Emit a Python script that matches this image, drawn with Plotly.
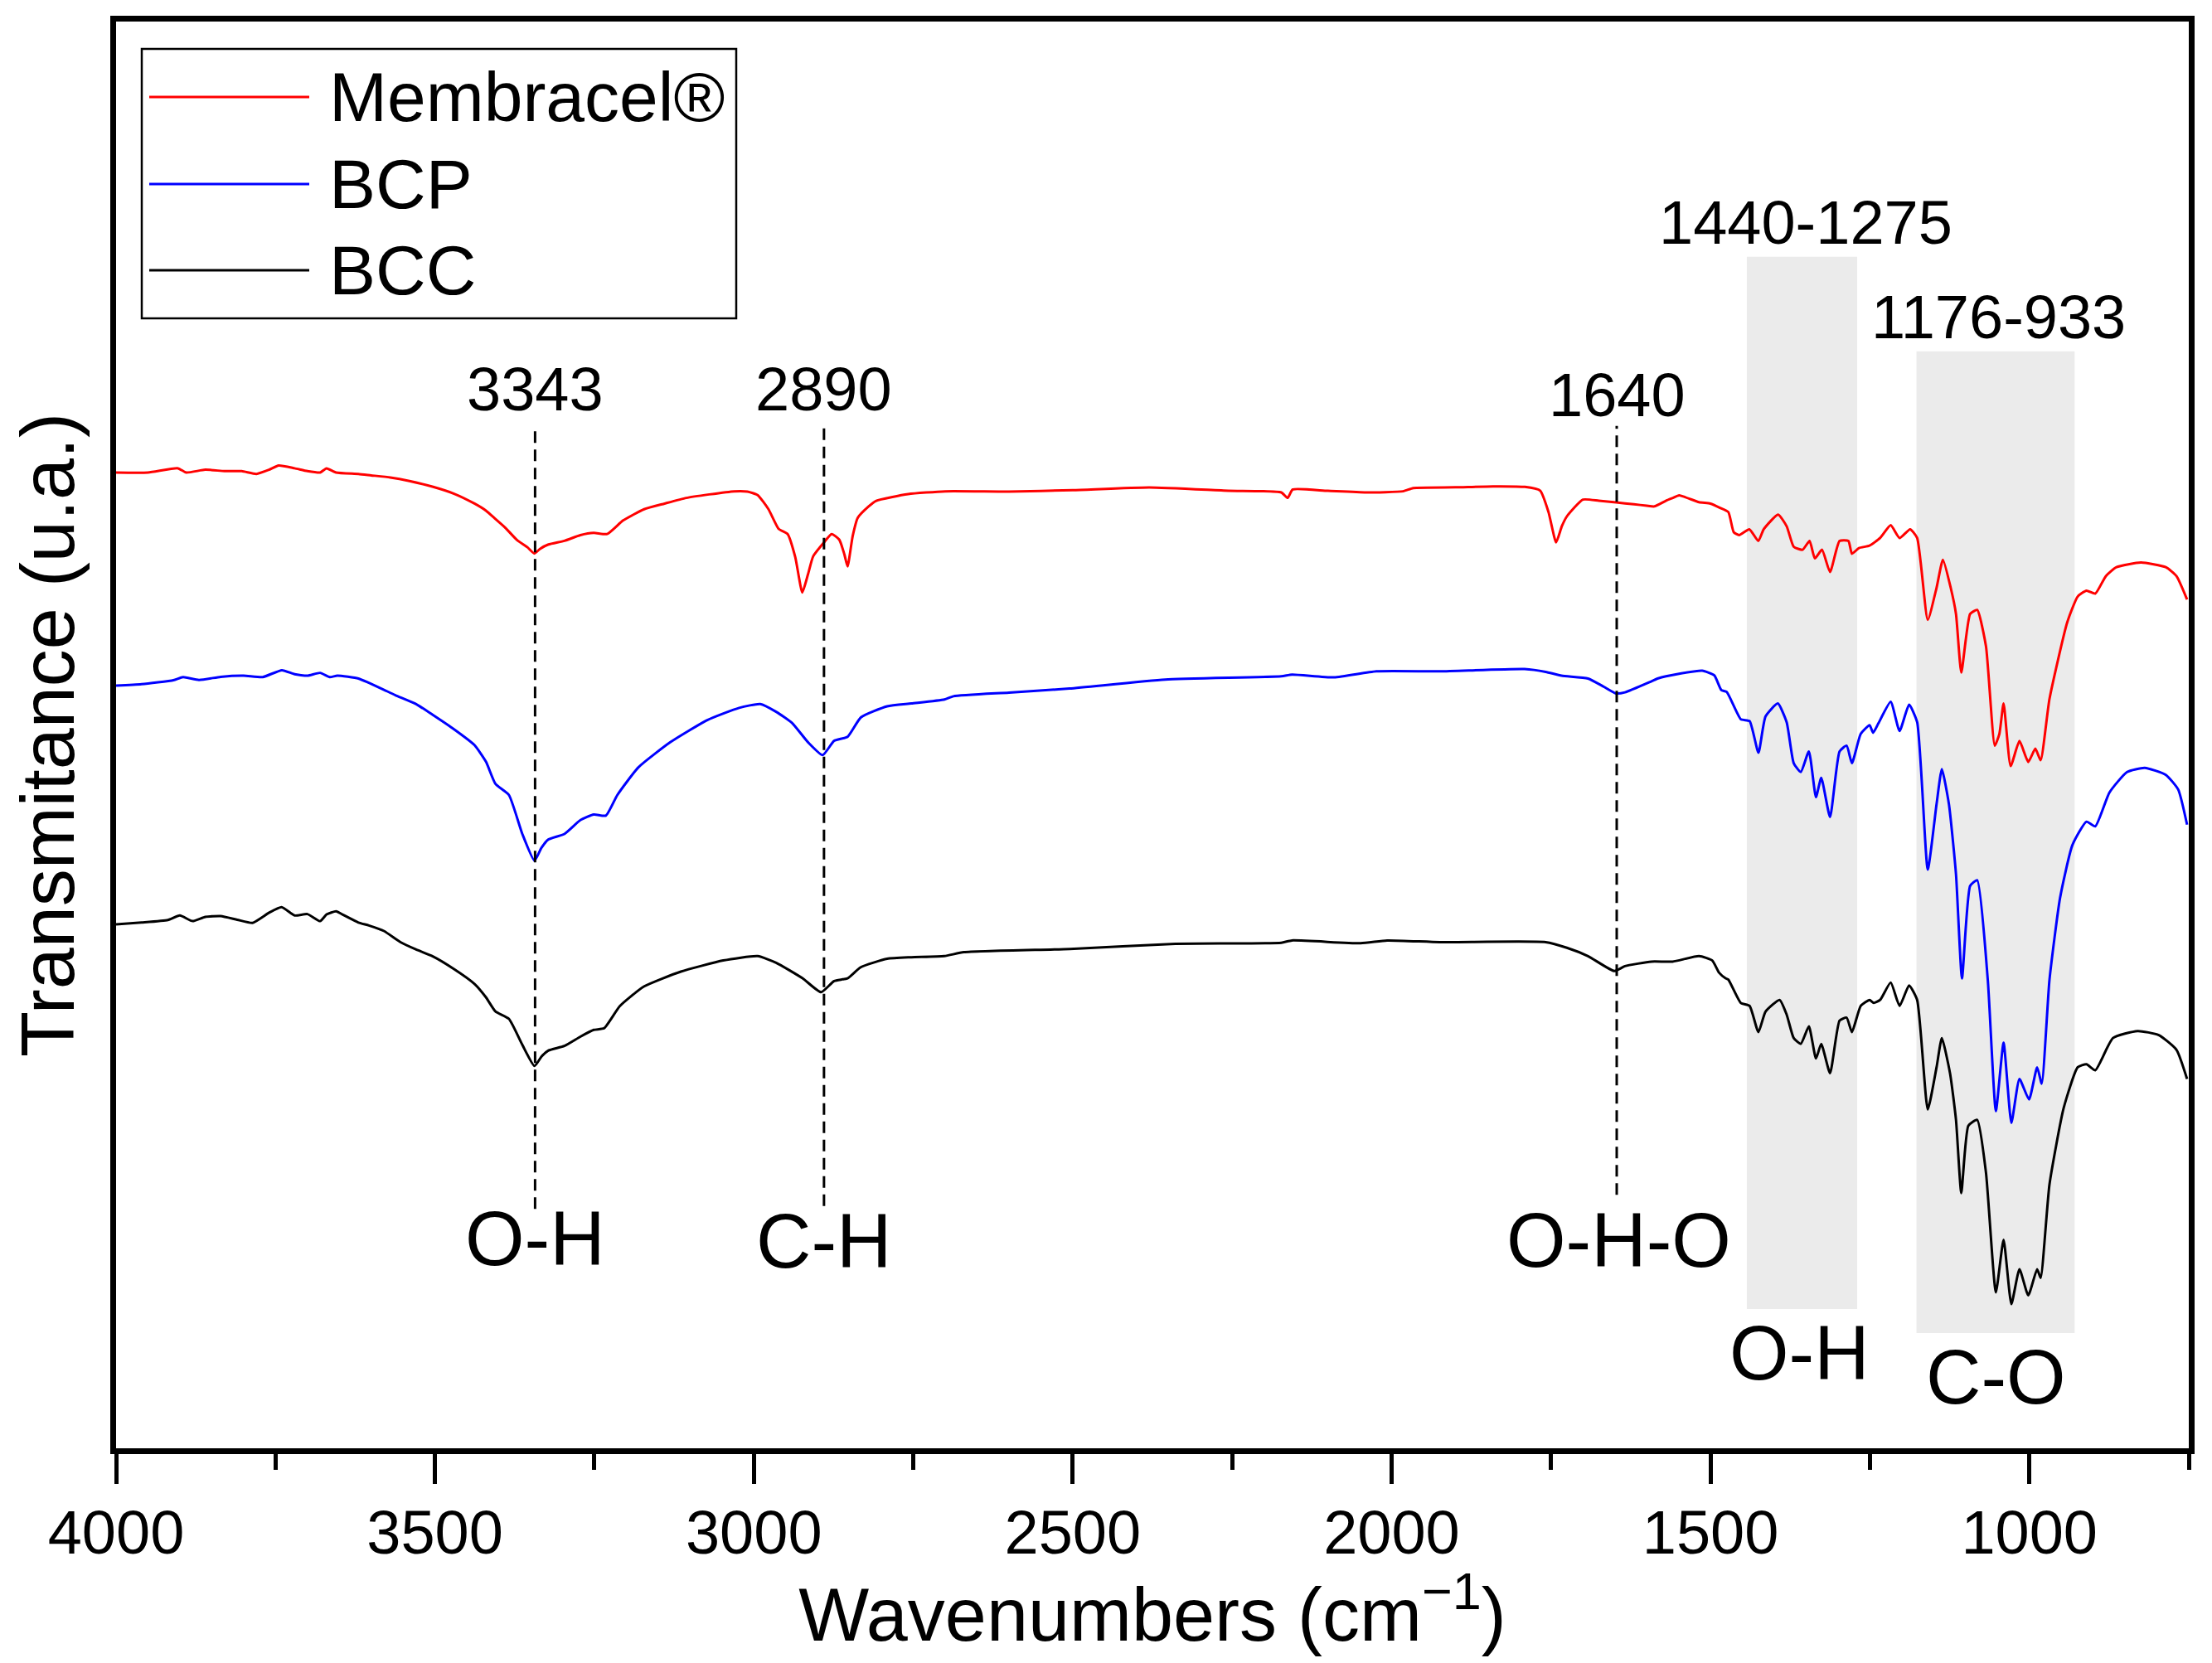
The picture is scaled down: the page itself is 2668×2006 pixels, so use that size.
import plotly.graph_objects as go

# ---------------- data ----------------
red_x = [4000, 3950, 3903, 3890, 3860, 3830, 3803, 3780, 3760, 3745, 3720, 3700, 3680, 3670, 3655, 3620, 3600,
         3570, 3540, 3504, 3470, 3438, 3420, 3405, 3390, 3371, 3355, 3344, 3335, 3322, 3297, 3272, 3251, 3230,
         3205, 3172, 3140, 3106, 3070, 3031, 3010, 2994, 2977, 2961, 2947, 2935, 2924, 2915, 2907, 2890, 2878,
         2866, 2858, 2853, 2845, 2837, 2820, 2808, 2758, 2700, 2600, 2500, 2380, 2256, 2173, 2163, 2155, 2100,
         2040, 1982, 1966, 1900, 1841, 1791, 1767, 1754, 1742, 1733, 1725, 1700, 1675, 1648, 1620, 1600, 1588,
         1570, 1559, 1549, 1518, 1500, 1485, 1472, 1463.5, 1455, 1439, 1425, 1416.5, 1394, 1380.5, 1369.5,
         1355.6, 1344.6, 1336.3, 1325.2, 1312.5, 1297.6, 1283.7, 1278.2, 1267.1, 1250.5, 1234, 1217.4, 1203.5,
         1187, 1175.9, 1159.3, 1145.5, 1135.5, 1123.3, 1115, 1106.7, 1092.9, 1081.8, 1068, 1054.2, 1047, 1040.4,
         1029.3, 1015.5, 1001.7, 990.6, 982.3, 968.4, 940.8, 924.2, 910.4, 896.6, 880, 863.4, 825, 786, 769.3,
         752.7]
red_y = [690, 690, 693, 690, 692, 691, 691, 689, 692, 695, 693, 691, 690, 693, 690, 689, 688,
         686.5, 684, 680, 675, 668, 663, 657, 651, 642, 637, 632.6, 636, 639, 641.6, 645.6, 647.2, 646.4,
         656, 664, 668, 672, 674.5, 676.7, 676.5, 674, 664, 650, 646.4, 630, 605, 618, 630.6, 640.5, 646.4,
         642.4, 632, 623.5, 645, 658, 666, 670, 674.7, 676.7, 676.5, 677.5, 679.4, 677.1, 675.9, 672, 678, 677,
         675.9, 676.7, 679, 679.5, 680.2, 679.8, 677.1, 662, 640.5, 652, 659, 670.8, 670, 668.8, 667.5, 666.5, 666,
         670, 672, 673.8, 669, 668, 665, 662, 647.7, 645.7, 649.8, 641.5, 649.8, 660.2, 651.9, 637.4,
         635.3, 641.5, 629.1, 635.3, 619.5, 641.5, 641.5, 632.4, 636.5, 638.2, 643.6, 652.7, 643.6,
         649.8, 643.6, 585.5, 608.3, 628.2, 608.3, 589.7, 548.2, 589.7, 592.6, 566.9, 496.4, 504.7, 526.3,
         481.9, 499.7, 484.8, 494.3, 486.0, 529.6, 583.5, 602.1, 606.3, 604.2, 616.6, 622.9, 626.2, 622.9, 616.6,
         600.0]

blue_x = [4000, 3960, 3910, 3895, 3870, 3836, 3800, 3770, 3740, 3720, 3700, 3680, 3665, 3653, 3620, 3603.6,
          3580, 3562, 3530, 3504, 3470, 3438, 3420, 3405, 3384, 3363, 3344, 3333, 3322, 3297, 3272, 3251, 3232,
          3214, 3181, 3131, 3073, 3023, 2990, 2965, 2940, 2915, 2892, 2874, 2853, 2832, 2791, 2753, 2701, 2687,
          2600, 2505, 2355, 2173, 2156, 2090, 2024, 1924, 1791.5, 1758.4, 1733.5, 1692, 1667, 1648, 1634, 1592.5,
          1582, 1551, 1513, 1494, 1483, 1474.5, 1452.4, 1438.6, 1424.8, 1413.7, 1394.4, 1380.5, 1369.5, 1358.4,
          1345.7, 1334.6, 1326.3, 1312.5, 1297.6, 1286.5, 1278.2, 1264.4, 1250.5, 1245, 1236.7, 1217.4, 1203.5,
          1188.6, 1175.9, 1159.3, 1145.5, 1137.2, 1126.1, 1115, 1105.6, 1092.9, 1081.8, 1065.2, 1052.5, 1040.4,
          1028.2, 1015.5, 1000.5, 987.8, 980.6, 968.4, 951.8, 932.5, 910.4, 896.6, 874.4, 846.8, 819.1, 786,
          766.6, 752.7]
blue_y = [539, 540, 542.8, 545, 543, 545.2, 546, 545, 549.9, 547, 546, 548, 545, 546, 544, 540.9,
          536, 532.2, 526, 518.4, 508, 496.8, 485, 469.2, 461.4, 433.8, 414.9, 424, 429.9, 433.8, 443.6, 447.6, 446.8,
          461.4, 481, 498.8, 514.5, 523.2, 525.9, 520.4, 512.5, 498.8, 489.7, 499.9, 502.7, 516.5, 524.3, 526.3, 529.1, 531.4,
          534, 536.9, 543.2, 545.6, 546.8, 544.8, 549.1, 549.1, 550.7, 548.7, 546, 544, 538.1, 533.4, 534.2, 542,
          544.1, 547.2, 549.5, 546.2, 535.8, 534.5, 515.1, 513.8, 491.4, 517.1, 526.3, 513.0, 484.0, 477.7,
          492.3, 459.9, 473.6, 445.8, 492.3, 496.4, 484.0, 504.7, 510.9, 505.5, 512.2, 527.5, 506.8,
          525.4, 513.0, 408.5, 454.9, 479.8, 454.9, 405.2, 331.4, 396.9, 401.0, 330.6, 237.3, 285.8,
          229.0, 260.1, 245.6, 268.4, 256.8, 330.6, 388.6, 425.9, 442.5, 439.2, 463.2, 477.7, 480.6, 475.7,
          465.3, 440.4]

black_x = [4000, 3960, 3918.7, 3900, 3880, 3860, 3836, 3810, 3786, 3760, 3740.4, 3720, 3700, 3680, 3670, 3655,
           3645, 3620, 3603.6, 3580, 3554, 3530, 3504, 3470, 3438, 3420, 3405, 3384, 3363, 3344, 3333, 3322, 3297,
           3272, 3251, 3234.6, 3210, 3172.4, 3114.4, 3048, 2994, 2965, 2923.6, 2894.6, 2874, 2853, 2832.4, 2791,
           2753, 2701.4, 2670.5, 2504.6, 2338.8, 2173, 2156.4, 2048.6, 2007, 1924.2, 1758.4, 1725.2, 1692, 1650.6,
           1634, 1592.5, 1559.4, 1517.9, 1497.2, 1486.4, 1476.4, 1472, 1452.4, 1438.6, 1424.8, 1413.7, 1391.6,
           1380.5, 1369.5, 1358.4, 1345.7, 1334.6, 1326.3, 1312.5, 1297.6, 1286.5, 1278.2, 1264.4, 1250.5, 1244,
           1234, 1217.4, 1203.5, 1188.6, 1175.9, 1159.3, 1145.5, 1137.2, 1124.4, 1115, 1106.7, 1095.7, 1081.8, 1068,
           1052.5, 1040.4, 1028.2, 1015.5, 1001.7, 987.8, 982.3, 968.4, 946.3, 924.2, 910.4, 896.6, 868.9, 830.2,
           797, 769.3, 752.7]
black_y = [369.7, 371, 372.8, 376, 372, 375, 375.6, 373, 370.8, 378, 381.9, 376, 377, 372, 376.7, 379,
           376.7, 371, 368.9, 365, 357.1, 352, 347.2, 338, 327.5, 318, 307.9, 302.7, 284.3, 269.3, 276, 280.3, 283.5,
           290.1, 294.9, 296.1, 311.8, 325.6, 336.2, 344.1, 347.2, 342.5, 331.5, 321.6, 329.5, 331.5, 339.3, 345.3,
           346.4, 347.2, 350, 352.3, 355.9, 356.7, 358.3, 356.3, 358.3, 357.1, 357.1, 353.1, 347.2, 336.6,
           340.1, 343.3, 343.3, 347.2, 344.1, 335.4, 331.5, 330.6, 314, 311.9, 293.3, 307.8, 316.1,
           305.7, 289.1, 285, 297.4, 274.6, 285, 264.2, 301.5, 303.6, 293.3, 311.9, 316.1, 314,
           316.1, 328.5, 311.9, 326.4, 316.1, 238.5, 268.4, 289.1, 264.2, 231.1, 179.2, 226.9, 231.1, 193.7,
           108.8, 146.1, 100.5, 125.3, 106.7, 125.3, 119.1, 185.5, 239.3, 268.4, 270.5, 266.3, 289.1, 294.1,
           291.2, 280.8, 260.1]

series_names = ["Membracel®", "BCP", "BCC"]
series_colors = ["#FF0000", "#0000FF", "#000000"]

peak_positions = [3343, 2890, 1647]
peak_labels = ["3343", "2890", "1640"]
bond_labels = ["O-H", "C-H", "O-H-O"]

band_ranges = [(1443, 1270), (1177, 929)]
band_labels = ["1440-1275", "1176-933"]
band_bonds = ["O-H", "C-O"]

x_ticks = [4000, 3500, 3000, 2500, 2000, 1500, 1000]

# ---------------- figure ----------------
FONT = "Liberation Sans, Arial, sans-serif"
fig = go.Figure()

for xs, ys, name, col in zip([red_x, blue_x, black_x], [red_y, blue_y, black_y], series_names, series_colors):
    fig.add_trace(go.Scatter(x=xs, y=ys, mode="lines", name=name,
                             line=dict(color=col, width=3, shape="spline", smoothing=0.5),
                             showlegend=False))

# shaded bands
band_tops = [843, 776]
band_bottoms = [97, 80]
for (x0, x1), top, bot in zip(band_ranges, band_tops, band_bottoms):
    fig.add_shape(type="rect", xref="x", yref="y", x0=x0, x1=x1, y0=bot, y1=top,
                  fillcolor="#EBEBEB", line=dict(width=0), layer="below")

# dashed peak lines
line_bottoms = [168, 170, 178]
for xp, yb in zip(peak_positions, line_bottoms):
    fig.add_shape(type="line", xref="x", yref="y", x0=xp, x1=xp, y0=yb, y1=723,
                  line=dict(color="black", width=3, dash="14px,8px"))

annots = []
label_y = [749, 749, 745]
for xp, txt, ly in zip(peak_positions, peak_labels, label_y):
    annots.append(dict(x=xp, y=ly, text=txt, showarrow=False, xref="x", yref="y",
                       font=dict(size=74, color="black", family=FONT), xanchor="center", yanchor="middle"))
bond_x = [3343, 2890, 1644]
bond_y = [147, 145, 146]
for bx, txt, by in zip(bond_x, bond_labels, bond_y):
    annots.append(dict(x=bx, y=by, text=txt, showarrow=False, xref="x", yref="y",
                       font=dict(size=92, color="black", family=FONT), xanchor="center", yanchor="middle"))
band_label_pos = [(1351, 867), (1048, 800)]
for (bx, by), txt in zip(band_label_pos, band_labels):
    annots.append(dict(x=bx, y=by, text=txt, showarrow=False, xref="x", yref="y",
                       font=dict(size=74, color="black", family=FONT), xanchor="center", yanchor="middle"))
band_bond_pos = [(1361, 66), (1052, 49)]
for (bx, by), txt in zip(band_bond_pos, band_bonds):
    annots.append(dict(x=bx, y=by, text=txt, showarrow=False, xref="x", yref="y",
                       font=dict(size=92, color="black", family=FONT), xanchor="center", yanchor="middle"))

# custom legend (long line samples as in the reference)
fig.add_shape(type="rect", xref="paper", yref="paper", x0=0.0124, x1=0.2992, y0=0.792, y1=0.9808,
              line=dict(color="black", width=2.5), fillcolor="white", layer="above")
leg_rows = [0.9471, 0.8861, 0.8257]
for ry, name, col in zip(leg_rows, series_names, series_colors):
    fig.add_shape(type="line", xref="paper", yref="paper", x0=0.016, x1=0.0932, y0=ry, y1=ry,
                  line=dict(color=col, width=3))
    annots.append(dict(x=0.102, y=ry, xref="paper", yref="paper", text=name, showarrow=False,
                       xanchor="left", yanchor="middle", font=dict(size=84, color="black", family=FONT)))

# page body has an 8px margin: size the figure so the plot area lands where the reference has it
fig.update_layout(
    width=2652, height=1990,
    template="none",
    paper_bgcolor="white", plot_bgcolor="white",
    margin=dict(l=132, r=20, t=18, b=251, autoexpand=False),
    font=dict(family=FONT, color="black"),
    annotations=annots,
    showlegend=False,
)

fig.update_xaxes(
    range=[4000, 750], autorange=False,
    tickmode="array", tickvals=x_ticks, ticktext=[str(v) for v in x_ticks],
    ticks="outside", ticklen=36, tickwidth=5, tickcolor="black",
    minor=dict(tickmode="linear", tick0=0, dtick=250, ticks="outside", ticklen=19, tickwidth=5,
               tickcolor="black", showgrid=False),
    showline=True, linewidth=6.5, linecolor="black", mirror=True,
    showgrid=False, zeroline=False, automargin=False,
    ticklabelstandoff=-5,
    tickfont=dict(size=74, family=FONT, color="black"),
    title=dict(text="Wavenumbers (cm<sup>−1</sup>)", font=dict(size=90, family=FONT, color="black"), standoff=0),
)
fig.update_yaxes(
    range=[-1.7, 1009.7], autorange=False,
    showticklabels=False, ticks="",
    showline=True, linewidth=6.5, linecolor="black", mirror=True,
    showgrid=False, zeroline=False, automargin=False,
    title=dict(text="Transmitance (u.a.)", font=dict(size=90, family=FONT, color="black"), standoff=22),
)

fig.write_html("out.html")
